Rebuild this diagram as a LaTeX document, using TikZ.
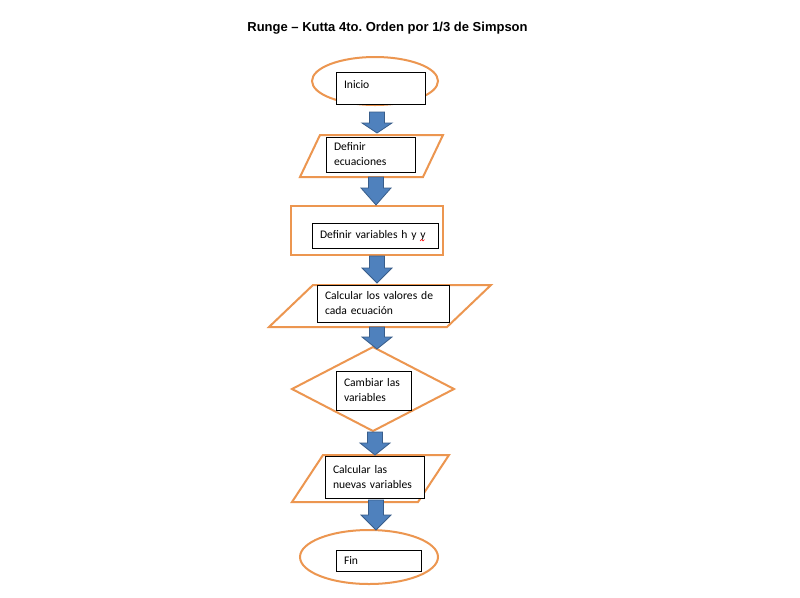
\documentclass[tikz,border=0pt]{standalone}
\usepackage{fontspec}
\setmainfont{Carlito}[WordSpace=0.45]
\newfontfamily\titlefont{Liberation Sans}
\usetikzlibrary{calc,shapes.geometric}
\definecolor{orng}{RGB}{236,150,80}
\definecolor{bfill}{RGB}{79,129,189}
\definecolor{bline}{RGB}{56,93,138}
\newcommand\blockarrow[3]{%
  \draw[barrow] ($(#1)+(-7.5,0)$) -- ($(#1)+(7.5,0)$) -- ($(#2)+(7.5,-#3)$) -- ($(#2)+(15,-#3)$) -- (#2) -- ($(#2)+(-15,-#3)$) -- ($(#2)+(-7.5,-#3)$) -- cycle;}
\frenchspacing
\begin{document}
\begin{tikzpicture}[x=0.75pt,y=-0.75pt,
  outer/.style={draw=orng, line width=1.5pt, fill=white},
  ibox/.style={draw=black, line width=0.75pt, fill=white, inner xsep=6pt, inner ysep=0pt, align=left,
    font=\fontsize{8.7}{11.25}\selectfont},
  barrow/.style={fill=bfill, draw=bline, line width=0.6pt}]
\useasboundingbox (0,0) rectangle (800,597);
\fill[white] (0,0) rectangle (800,597);

\node[font=\titlefont\bfseries\fontsize{9.75}{12}\selectfont, anchor=base] (title) at (387.5,31) {Runge – Kutta 4to. Orden por 1/3 de Simpson};

% outer shapes
\node[outer, ellipse, inner sep=0pt, minimum width=94.5pt, minimum height=36pt] (e1) at (375,81) {};
\draw[outer] (320,135) coordinate (p1a) -- (443,135) -- (423,177) -- (300,177) -- cycle;
\node[outer, rectangle, inner sep=0pt, minimum width=114pt, minimum height=36.75pt] (r2) at (367,230.5) {};
\draw[outer] (313,285) coordinate (p2a) -- (491,285) -- (447,327) -- (269,327) -- cycle;
\draw[outer] (373,347) coordinate (d1t) -- (454,389) -- (373,431) -- (292,389) -- cycle;
\draw[outer] (323,455) coordinate (p3a) -- (449,455) -- (418,502) -- (292,502) -- cycle;
\node[outer, ellipse, inner sep=0pt, minimum width=103.5pt, minimum height=40.5pt] (e2) at (369,557) {};

% inner boxes
\node[ibox, minimum width=66.75pt, minimum height=24pt, text width=54.75pt] (b1) at (380.5,88) {\raisebox{5pt}{\mbox{Inicio}}};
\node[ibox, minimum width=66.75pt, minimum height=26.25pt, text width=54.75pt] (b2) at (370.5,154.5) {\mbox{Definir}\\\mbox{ecuaciones}};
\node[ibox, minimum width=94.5pt, minimum height=18.75pt, text width=82.5pt] (b3) at (375,235.5) {\mbox{Definir variables h y y}};
\node[ibox, minimum width=99pt, minimum height=27.75pt, text width=87pt] (b4) at (383,303.5) {\mbox{Calcular los valores de}\\\mbox{cada ecuación}};
\node[ibox, minimum width=56.25pt, minimum height=29.25pt, text width=44.25pt] (b5) at (373.5,390.5) {\mbox{Cambiar las}\\\mbox{variables}};
\node[ibox, minimum width=74.25pt, minimum height=31.5pt, text width=62.25pt] (b6) at (374.5,477) {\mbox{Calcular las}\\\mbox{nuevas variables}};
\node[ibox, minimum width=63.75pt, minimum height=15.75pt, text width=51.75pt] (b7) at (378.5,560.5) {\mbox{Fin}};

% spell-check mark
\draw[red, line width=0.5pt] (420,241) -- (421.5,239.5) -- (423,241) -- (424.5,239.5);

% arrows
\coordinate (a1s) at (377,112); \coordinate (a1e) at (377,133);
\coordinate (a2s) at (376,177); \coordinate (a2e) at (376,205);
\coordinate (a3s) at (377,256); \coordinate (a3e) at (377,283);
\coordinate (a4s) at (377,327); \coordinate (a4e) at (377,349);
\coordinate (a5s) at (375,432); \coordinate (a5e) at (375,455);
\coordinate (a6s) at (376,500); \coordinate (a6e) at (376,530);
\blockarrow{a1s}{a1e}{10}
\blockarrow{a2s}{a2e}{17}
\blockarrow{a3s}{a3e}{15}
\blockarrow{a4s}{a4e}{12}
\blockarrow{a5s}{a5e}{12}
\blockarrow{a6s}{a6e}{15}
\end{tikzpicture}
\end{document}
